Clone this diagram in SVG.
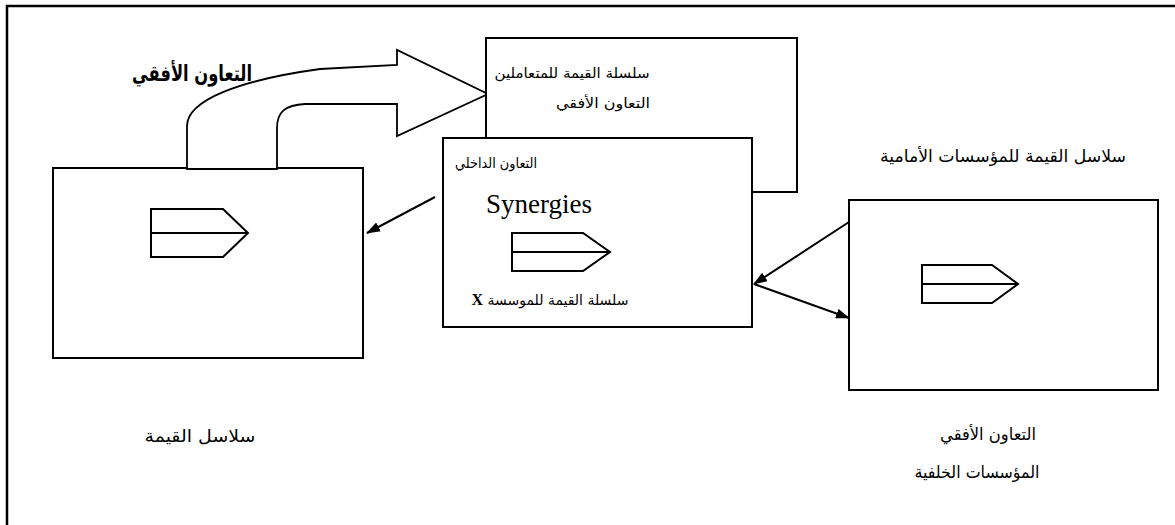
<svg xmlns="http://www.w3.org/2000/svg" width="1175" height="525" viewBox="0 0 1175 525">
<style>
.box{fill:#fff;stroke:#000;stroke-width:2}
.ln{fill:none;stroke:#000;stroke-width:2}
.ar{font-family:"DejaVu Sans","Noto Sans",sans-serif;fill:#000;text-anchor:middle;direction:rtl}
.sm{font-size:14px}
.md{font-size:17px}
.big{font-size:22px;font-weight:bold}
.lat{font-family:"Liberation Serif","Times New Roman",serif;font-size:27px;fill:#000;text-anchor:middle}
.x{font-family:"Liberation Serif","Times New Roman",serif;font-weight:bold;font-size:16px}
</style>
<defs>
<marker id="ah" viewBox="0 0 14 10" refX="13" refY="5" markerWidth="14" markerHeight="10" markerUnits="userSpaceOnUse" orient="auto">
<path d="M0,0 L14,5 L0,10 Z" fill="#000"/>
</marker>
</defs>
<rect width="1175" height="525" fill="#fff"/>
<path d="M7,525 L7,6 L1175,6" fill="none" stroke="#000" stroke-width="2.5"/>

<g id="left-chain">
<rect class="box" x="53" y="168" width="310" height="190"/>
<path class="ln" d="M151,209 L223,209 L248,233 L223,257 L151,257 Z M151,233 L248,233"/>
<text class="ar md" x="200" y="442" textLength="111" lengthAdjust="spacingAndGlyphs">سلاسل القيمة</text>
</g>

<g id="horizontal-arrow">
<path d="M187,169 L187,126 C187,100 240,80 320,69 L397,65 L397,50 L488,94 L397,136 L397,104 L305,104 C285,105 277,112 277,128 L277,169 Z" fill="#fff" stroke="#000" stroke-width="1.8"/>
<text class="ar big" x="192" y="81" textLength="120" lengthAdjust="spacingAndGlyphs">التعاون الأفقي</text>
</g>

<g id="customers-chain">
<rect class="box" x="486" y="38" width="311" height="154"/>
<text class="ar sm" x="572" y="78" textLength="155" lengthAdjust="spacingAndGlyphs">سلسلة القيمة للمتعاملين</text>
<text class="ar sm" x="603" y="108" textLength="94" lengthAdjust="spacingAndGlyphs">التعاون الأفقي</text>
</g>

<g id="firm-chain">
<rect class="box" x="443" y="138" width="309" height="189"/>
<text class="ar sm" x="496" y="168" textLength="82" lengthAdjust="spacingAndGlyphs">التعاون الداخلي</text>
<text class="lat" x="539" y="213">Synergies</text>
<path class="ln" d="M512,233 L583,233 L610,252 L583,271 L512,271 Z M512,252 L610,252"/>
<text class="ar sm" x="550" y="305">سلسلة القيمة للموسسة <tspan class="x">X</tspan></text>
</g>

<g id="front-chain">
<text class="ar md" x="1003" y="162" textLength="246" lengthAdjust="spacingAndGlyphs">سلاسل القيمة للمؤسسات الأمامية</text>
<rect class="box" x="849" y="200" width="309" height="190"/>
<path class="ln" d="M922,265 L992,265 L1018,284 L992,303 L922,303 Z M922,284 L1018,284"/>
<text class="ar md" x="988" y="440" textLength="96" lengthAdjust="spacingAndGlyphs">التعاون الأفقي</text>
<text class="ar md" x="977" y="478" textLength="125" lengthAdjust="spacingAndGlyphs">المؤسسات الخلفية</text>
</g>

<g id="connectors">
<line class="ln" x1="435" y1="197" x2="367" y2="233" marker-end="url(#ah)"/>
<line class="ln" x1="849" y1="222" x2="754" y2="284" marker-end="url(#ah)"/>
<line class="ln" x1="754" y1="284" x2="849" y2="318" marker-end="url(#ah)"/>
</g>
</svg>
